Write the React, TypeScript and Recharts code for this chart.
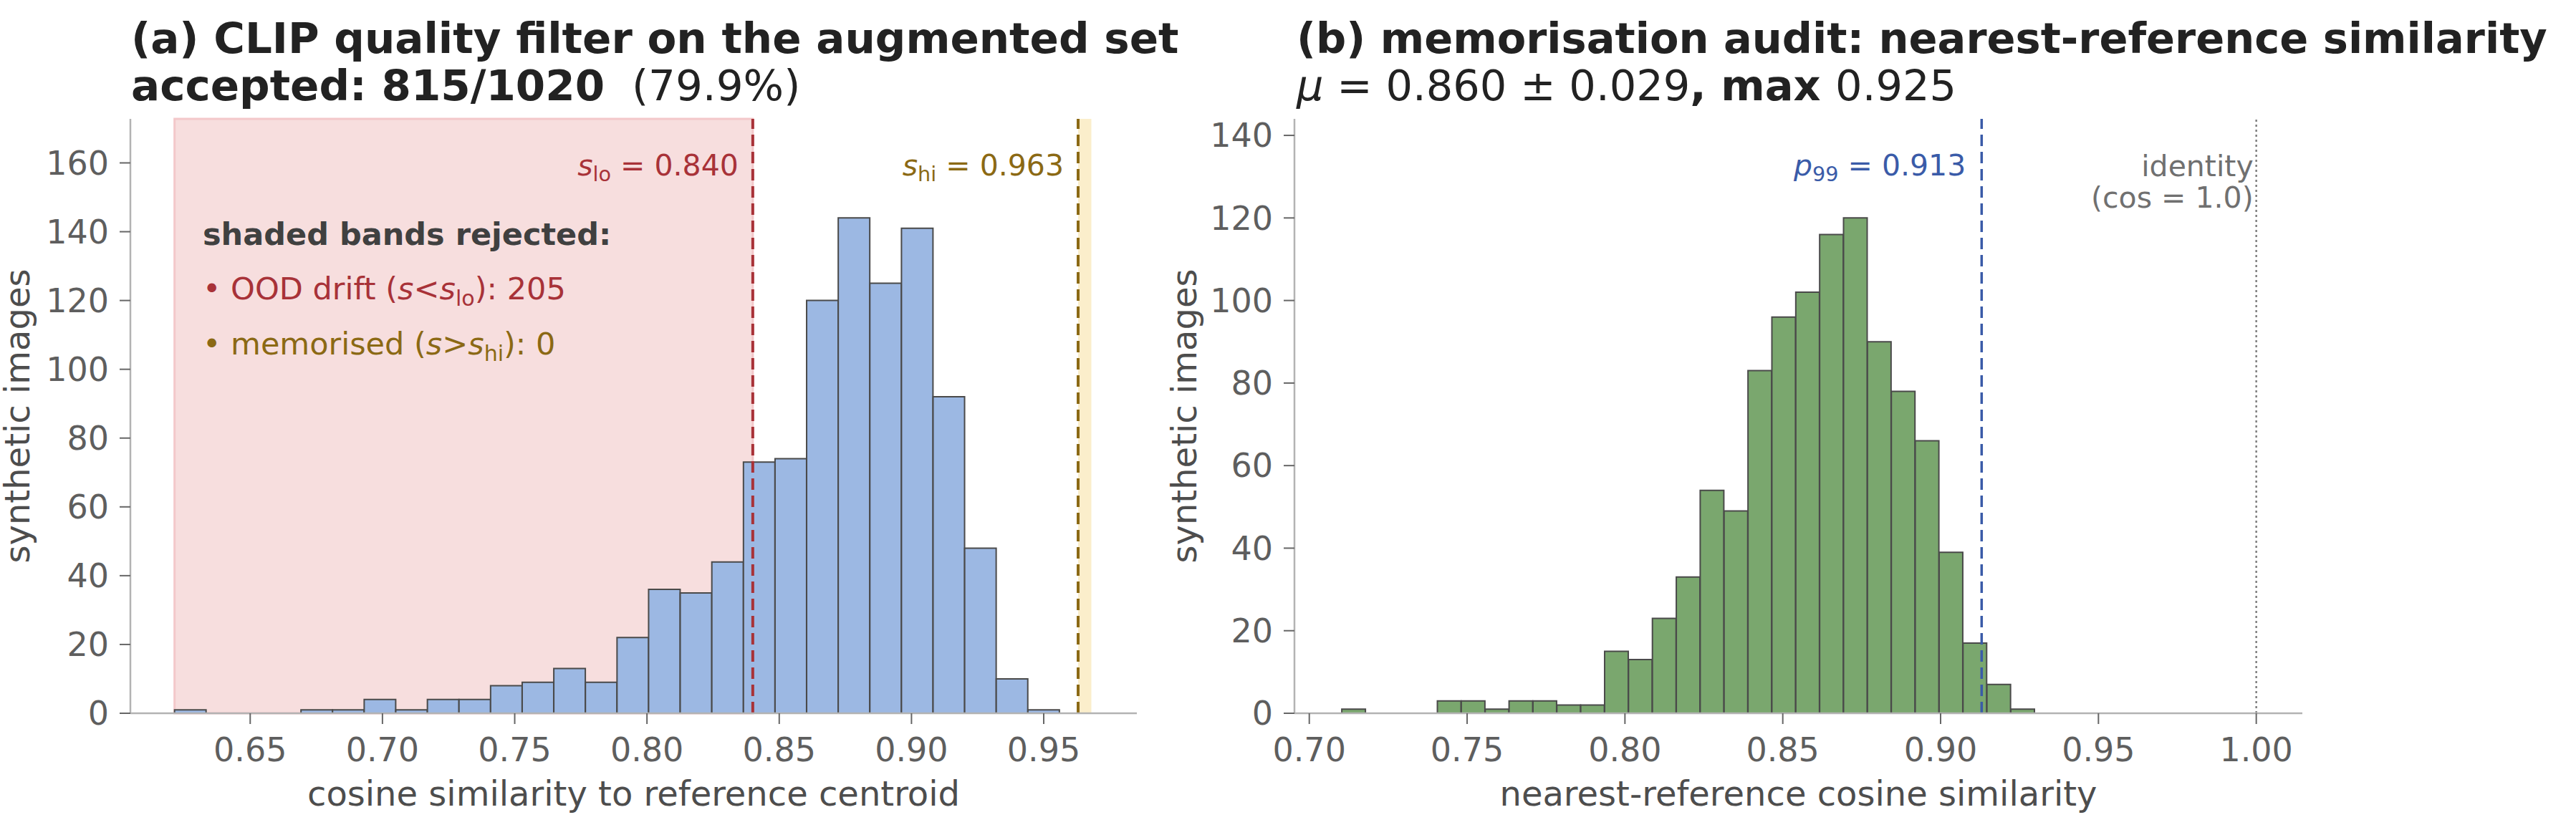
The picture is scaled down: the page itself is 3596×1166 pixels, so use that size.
import React from "react";
import { BarChart, Bar, XAxis, YAxis, ReferenceLine, ReferenceArea, Label } from "recharts";

const FONT = "'DejaVu Sans', sans-serif";

// (a) CLIP similarity to reference centroid: bin centres and counts
const clipBinCentres = [
  0.62737, 0.63932, 0.65127, 0.66322, 0.67517, 0.68711, 0.69906, 0.71101,
  0.72296, 0.73491, 0.74685, 0.7588, 0.77075, 0.7827, 0.79465, 0.80659,
  0.81854, 0.83049, 0.84244, 0.85439, 0.86633, 0.87828, 0.89023, 0.90218,
  0.91413, 0.92607, 0.93802, 0.94997,
];
const clipCounts = [
  1, 0, 0, 0, 1, 1, 4, 1, 4, 4, 8, 9, 13, 9, 22, 36, 35, 44, 73, 74, 120, 144,
  125, 141, 92, 48, 10, 1,
];
const clipXTicks = [0.65, 0.7, 0.75, 0.8, 0.85, 0.9, 0.95];
const clipYTicks = [0, 20, 40, 60, 80, 100, 120, 140, 160];
const clipMin = 0.6214;
const sLo = 0.84;
const sHi = 0.963;
const sHiBandEnd = 0.968;

// (b) nearest-reference cosine similarity: bin centres and counts
const nnBinCentres = [
  0.71408, 0.72165, 0.72922, 0.73679, 0.74436, 0.75193, 0.7595, 0.76707,
  0.77464, 0.78221, 0.78977, 0.79734, 0.80491, 0.81248, 0.82005, 0.82762,
  0.83519, 0.84276, 0.85033, 0.8579, 0.86546, 0.87303, 0.8806, 0.88817,
  0.89574, 0.90331, 0.91088, 0.91845, 0.92602,
];
const nnCounts = [
  1, 0, 0, 0, 3, 3, 1, 3, 3, 2, 2, 15, 13, 23, 33, 54, 49, 83, 96, 102, 116,
  120, 90, 78, 66, 39, 17, 7, 1,
];
const nnXTicks = [0.7, 0.75, 0.8, 0.85, 0.9, 0.95, 1.0];
const nnYTicks = [0, 20, 40, 60, 80, 100, 120, 140];
const p99 = 0.913;

const clipData = clipBinCentres.map((x, i) => ({ x, n: clipCounts[i] }));
const nnData = nnBinCentres.map((x, i) => ({ x, n: nnCounts[i] }));

const RED = "#a83238";
const OLIVE = "#8b6914";
const BLUE = "#3a5ba8";
const GREY = "#707070";

const tickStyle = { fontSize: 46, fill: "#5e5e5e", fontFamily: FONT };
const axisLine = { stroke: "#b3b3b3", strokeWidth: 2.5 };
const tickLine = { stroke: "#666", strokeWidth: 2 };

// italic symbol with an upright subscript, then the rest back on the baseline
function subText(base: string, sub: string, rest: string, size: number) {
  const shift = size * 0.2;
  return [
    <tspan key="b" fontStyle="italic">{base}</tspan>,
    <tspan key="s" fontSize={size * 0.7} dy={shift}>{sub}</tspan>,
    <tspan key="r" dy={-shift}>{rest}</tspan>,
  ];
}

function lineLabel(content: React.ReactNode, color: string, dx: number, dy: number) {
  return ({ viewBox }: any) => (
    <text
      x={viewBox.x + dx}
      y={viewBox.y + dy}
      textAnchor="end"
      fill={color}
      fontSize={41}
      fontFamily={FONT}
      style={{ whiteSpace: "pre" }}
    >
      {content}
    </text>
  );
}

function ClipPanel() {
  return (
    <BarChart
      width={1600}
      height={1166}
      data={clipData}
      margin={{ top: 166, right: 13, bottom: 30, left: 9 }}
      barCategoryGap={0}
      barGap={0}
    >
      <ReferenceArea x1={clipMin} x2={sLo} fill="#f7dede" fillOpacity={1} stroke="#f3c8ca" strokeWidth={3} />
      <ReferenceArea x1={sHi} x2={sHiBandEnd} fill="#fbeecb" fillOpacity={1} />
      <XAxis
        dataKey="x"
        type="number"
        domain={[0.6047, 0.9852]}
        allowDataOverflow
        ticks={clipXTicks}
        interval={0}
        tickFormatter={(v: number) => v.toFixed(2)}
        height={140}
        tickSize={15}
        tickMargin={19}
        tick={tickStyle}
        axisLine={axisLine}
        tickLine={tickLine}
      >
        <Label value="cosine similarity to reference centroid" position="insideBottom" offset={11} fill="#4d4d4d" fontSize={48} />
      </XAxis>
      <YAxis
        type="number"
        domain={[0, 172.8]}
        ticks={clipYTicks}
        interval={0}
        width={173}
        tickSize={15}
        tickMargin={15}
        tick={tickStyle}
        axisLine={axisLine}
        tickLine={tickLine}
      >
        <Label
          value="synthetic images"
          angle={-90}
          position="insideLeft"
          offset={15}
          fill="#4d4d4d"
          fontSize={48}
          style={{ textAnchor: "middle" }}
        />
      </YAxis>
      <Bar dataKey="n" fill="#9cb8e3" stroke="#4a4a4a" strokeWidth={2} isAnimationActive={false} />
      <ReferenceLine
        x={sLo}
        stroke={RED}
        strokeWidth={4}
        strokeDasharray="16 8"
        label={lineLabel(subText("s", "lo", " = 0.840", 41), RED, -20, 79)}
      />
      <ReferenceLine
        x={sHi}
        stroke={OLIVE}
        strokeWidth={4}
        strokeDasharray="16 8"
        label={lineLabel(subText("s", "hi", " = 0.963", 41), OLIVE, -20, 79)}
      />
    </BarChart>
  );
}

function MemoPanel() {
  return (
    <BarChart
      width={1996}
      height={1166}
      data={nnData}
      margin={{ top: 166, right: 382, bottom: 30, left: 17 }}
      barCategoryGap={0}
      barGap={0}
    >
      <XAxis
        dataKey="x"
        type="number"
        domain={[0.6953, 1.0146]}
        allowDataOverflow
        ticks={nnXTicks}
        interval={0}
        tickFormatter={(v: number) => v.toFixed(2)}
        height={140}
        tickSize={15}
        tickMargin={19}
        tick={tickStyle}
        axisLine={axisLine}
        tickLine={tickLine}
      >
        <Label value="nearest-reference cosine similarity" position="insideBottom" offset={11} fill="#4d4d4d" fontSize={48} />
      </XAxis>
      <YAxis
        type="number"
        domain={[0, 144]}
        ticks={nnYTicks}
        interval={0}
        width={190}
        tickSize={15}
        tickMargin={15}
        tick={tickStyle}
        axisLine={axisLine}
        tickLine={tickLine}
      >
        <Label
          value="synthetic images"
          angle={-90}
          position="insideLeft"
          offset={36}
          fill="#4d4d4d"
          fontSize={48}
          style={{ textAnchor: "middle" }}
        />
      </YAxis>
      <Bar dataKey="n" fill="#7aa76e" stroke="#4a4a4a" strokeWidth={2} isAnimationActive={false} />
      <ReferenceLine
        x={p99}
        stroke={BLUE}
        strokeWidth={3.5}
        strokeDasharray="16 8"
        label={lineLabel(subText("p", "99", " = 0.913", 41), BLUE, -22, 79)}
      />
      <ReferenceLine
        x={1.0}
        stroke="#808080"
        strokeWidth={2.5}
        strokeDasharray="3 4"
        label={({ viewBox }: any) => (
          <text textAnchor="end" fill={GREY} fontSize={41} fontFamily={FONT}>
            <tspan x={viewBox.x - 4} y={viewBox.y + 80}>identity</tspan>
            <tspan x={viewBox.x - 4} y={viewBox.y + 124}>(cos = 1.0)</tspan>
          </text>
        )}
      />
    </BarChart>
  );
}

export default function App() {
  return (
    <div
      style={{
        position: "absolute",
        left: 0,
        top: 0,
        width: 3596,
        height: 1166,
        background: "#fff",
        fontFamily: FONT,
      }}
    >
      <div style={{ position: "absolute", left: 0, top: 0 }}>
        <ClipPanel />
      </div>
      <div style={{ position: "absolute", left: 1600, top: 0 }}>
        <MemoPanel />
      </div>
      <svg
        width={3596}
        height={1166}
        style={{ position: "absolute", left: 0, top: 0, pointerEvents: "none" }}
        fontFamily={FONT}
      >
        <text x={183} y={74} fontSize={59.5} fontWeight="bold" fill="#222">
          (a) CLIP quality filter on the augmented set
        </text>
        <text x={183} y={140} fontSize={59.5} fill="#222" style={{ whiteSpace: "pre" }}>
          <tspan fontWeight="bold">accepted: 815/1020</tspan>
          {"  (79.9%)"}
        </text>
        <text x={1810} y={74} fontSize={59} fontWeight="bold" fill="#222">
          (b) memorisation audit: nearest-reference similarity
        </text>
        <text x={1810} y={140} fontSize={59} fill="#222" style={{ whiteSpace: "pre" }}>
          <tspan fontStyle="italic">μ</tspan>
          {" = 0.860 ± 0.029"}
          <tspan fontWeight="bold">, max </tspan>
          0.925
        </text>

        <text x={283} y={342} fontSize={43} fontWeight="bold" fill="#404040">
          shaded bands rejected:
        </text>
        <text x={283} y={418} fontSize={43} fill={RED} style={{ whiteSpace: "pre" }}>
          {"• OOD drift ("}
          <tspan fontStyle="italic">s</tspan>
          {"<"}
          {subText("s", "lo", "): 205", 43)}
        </text>
        <text x={283} y={495} fontSize={43} fill={OLIVE} style={{ whiteSpace: "pre" }}>
          {"• memorised ("}
          <tspan fontStyle="italic">s</tspan>
          {">"}
          {subText("s", "hi", "): 0", 43)}
        </text>
      </svg>
    </div>
  );
}
